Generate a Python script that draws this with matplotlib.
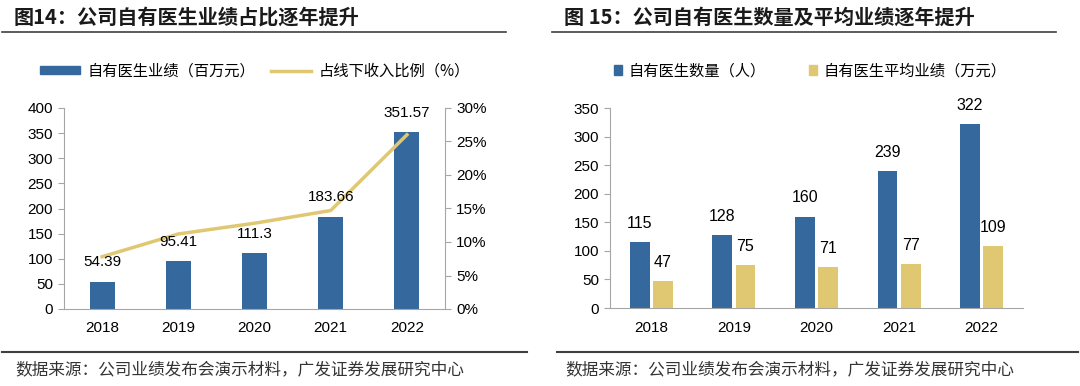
import matplotlib.pyplot as plt
from matplotlib.patches import Patch
from matplotlib.lines import Line2D
from matplotlib.ticker import FuncFormatter

plt.rcParams['font.family'] = ['Liberation Sans', 'Noto Sans CJK SC', 'DejaVu Sans']

years = ['2018', '2019', '2020', '2021', '2022']
revenue = [54.39, 95.41, 111.3, 183.66, 351.57]        # 自有医生业绩（百万元）
offline_share = [7.8, 11.2, 12.8, 14.7, 26.0]          # 占线下收入比例（%）
doctor_count = [115, 128, 160, 239, 322]               # 自有医生数量（人）
avg_perf = [47, 75, 71, 77, 109]                       # 自有医生平均业绩（万元）

BLUE = '#35689c'
GOLD = '#e0c872'
GRID = '#a6a6a6'
CJK = ['Noto Sans CJK SC', 'DejaVu Sans']

W, H = 1080, 386
fig = plt.figure(figsize=(W / 100, H / 100), dpi=100)


def box(x0, y0, x1, y1):
    # pixel box (top-left origin) -> figure fraction
    return [x0 / W, 1 - y1 / H, (x1 - x0) / W, (y1 - y0) / H]


def hline(x0, x1, y, lw=1.2, color='#404040'):
    fig.add_artist(Line2D([x0 / W, x1 / W], [1 - y / H, 1 - y / H], color=color, lw=lw))


# titles, rules, sources
fig.text(14 / W, 1 - 17 / H, '图14：公司自有医生业绩占比逐年提升', family=CJK,
         fontsize=14.5, fontweight='bold', color='#1a1a1a', va='center')
fig.text(564 / W, 1 - 17 / H, '图 15：公司自有医生数量及平均业绩逐年提升', family=CJK,
         fontsize=14.5, fontweight='bold', color='#1a1a1a', va='center')
hline(2, 506, 32)
hline(552, 1056, 32)
hline(2, 527, 352, lw=1.5)
hline(557, 1078, 352, lw=1.5)
src = '数据来源：公司业绩发布会演示材料，广发证券发展研究中心'
fig.text(15 / W, 1 - 370 / H, src, family=CJK, fontsize=12, color='#333333', va='center')
fig.text(565 / W, 1 - 370 / H, src, family=CJK, fontsize=12, color='#333333', va='center')


def style_axis(ax):
    for s in ['top', 'right']:
        ax.spines[s].set_visible(False)
    ax.spines['left'].set_color(GRID)
    ax.spines['bottom'].set_color(GRID)
    ax.tick_params(axis='y', length=4, color=GRID, labelsize=11, pad=4)
    ax.tick_params(axis='x', length=0, labelsize=11, pad=9)


# ---- left chart ----
ax1 = fig.add_axes(box(64, 108, 445, 309))
x = range(len(years))
ax1.bar(x, revenue, width=0.33, color=BLUE, zorder=2)
ax1.set_ylim(0, 400)
ax1.set_yticks(range(0, 401, 50))
ax1.set_xlim(-0.5, 4.5)
ax1.set_xticks(list(x))
ax1.set_xticklabels(years)
style_axis(ax1)

ax1b = ax1.twinx()
ax1b.plot(list(x), offline_share, color=GOLD, lw=2.5, zorder=1)
ax1b.set_ylim(0, 30)
ax1b.set_yticks(range(0, 31, 5))
ax1b.yaxis.set_major_formatter(FuncFormatter(lambda v, p: f'{v:.0f}%'))
for s in ['top', 'left', 'bottom']:
    ax1b.spines[s].set_visible(False)
ax1b.spines['right'].set_color(GRID)
ax1b.tick_params(axis='y', length=4, color=GRID, labelsize=11, pad=4)

# labels on top of the line
for i, v in enumerate(revenue):
    ax1b.annotate(f'{v:g}', (i, v / 400 * 30), xytext=(0, 9), textcoords='offset points',
                  ha='center', va='bottom', fontsize=11, zorder=5)

handles1 = [Patch(color=BLUE), Line2D([], [], color=GOLD, lw=2.5)]
fig.legend(handles1, ['自有医生业绩（百万元）', '占线下收入比例（%）'],
           loc='center', bbox_to_anchor=(255 / W, 1 - 71 / H), ncol=2, frameon=False,
           prop={'family': CJK, 'size': 11}, handlelength=2.6, handleheight=0.45,
           columnspacing=1.0, handletextpad=0.5)

# ---- right chart ----
ax2 = fig.add_axes(box(610, 108, 1023, 308))
bw = 0.24
xs = list(range(len(years)))
ax2.bar([i - bw / 2 - 0.02 for i in xs], doctor_count, width=bw, color=BLUE, zorder=2)
ax2.bar([i + bw / 2 + 0.02 for i in xs], avg_perf, width=bw, color=GOLD, zorder=2)
ax2.set_ylim(0, 350)
ax2.set_yticks(range(0, 351, 50))
ax2.set_xlim(-0.5, 4.5)
ax2.set_xticks(xs)
ax2.set_xticklabels(years)
style_axis(ax2)
for i in xs:
    ax2.annotate(str(doctor_count[i]), (i - bw / 2 - 0.02, doctor_count[i]), xytext=(0, 8),
                 textcoords='offset points', ha='center', va='bottom', fontsize=11.5)
    ax2.annotate(str(avg_perf[i]), (i + bw / 2 + 0.02, avg_perf[i]), xytext=(0, 8),
                 textcoords='offset points', ha='center', va='bottom', fontsize=11.5)

handles2 = [Patch(color=BLUE), Patch(color=GOLD)]
fig.legend(handles2, ['自有医生数量（人）', '自有医生平均业绩（万元）'],
           loc='center', bbox_to_anchor=(810 / W, 1 - 71 / H), ncol=2, frameon=False,
           prop={'family': CJK, 'size': 11}, handlelength=0.55, handleheight=0.55,
           columnspacing=2.8, handletextpad=0.4)

fig.savefig('out.png', dpi=100)
